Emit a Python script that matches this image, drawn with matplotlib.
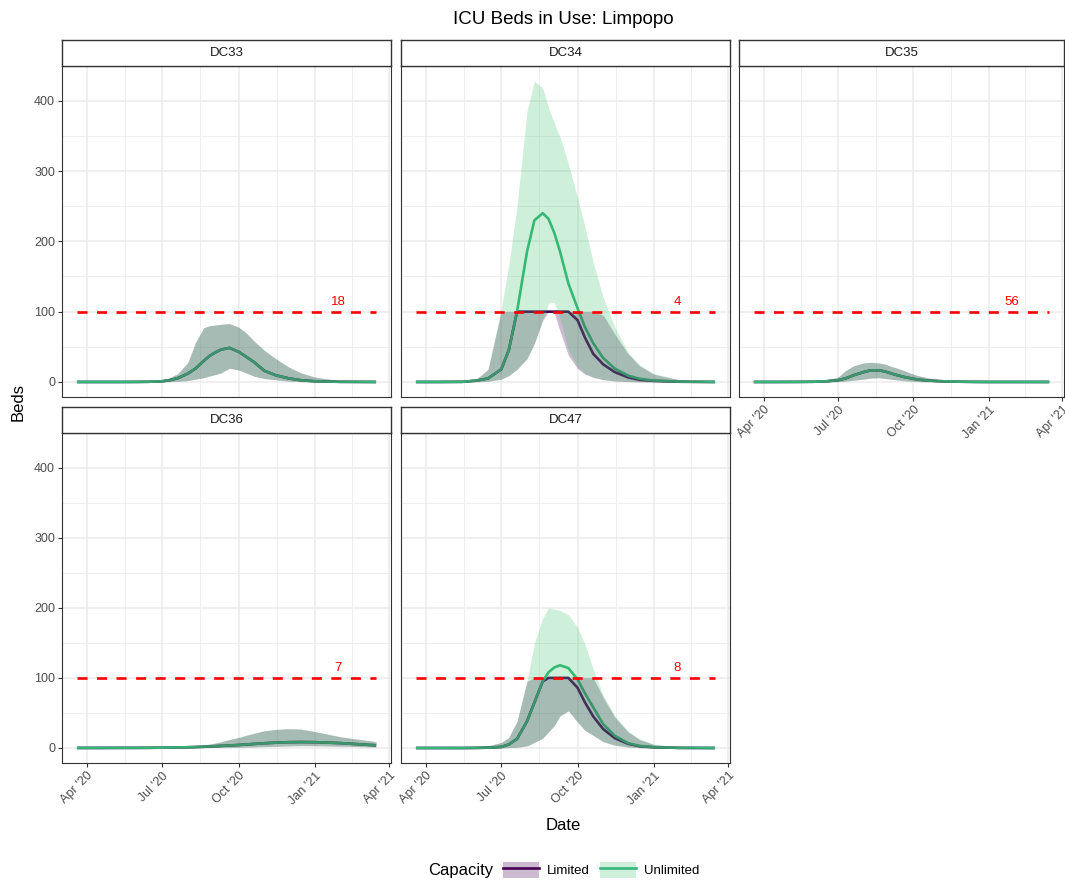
import numpy as np
import pandas as pd
import matplotlib
matplotlib.use('Agg')
import matplotlib.pyplot as plt
import matplotlib.dates as mdates
from matplotlib.patches import Patch
from matplotlib.lines import Line2D

plt.rcParams['font.family'] = ['Liberation Sans', 'DejaVu Sans']

# dates (shared by every panel)
dates = pd.to_datetime(['2020-03-20', '2020-04-15', '2020-05-15', '2020-06-01', '2020-06-15',
                        '2020-07-01', '2020-07-10', '2020-07-20', '2020-08-01', '2020-08-10',
                        '2020-08-20', '2020-08-27', '2020-09-03', '2020-09-10', '2020-09-20',
                        '2020-10-01', '2020-10-10', '2020-10-20', '2020-11-01', '2020-11-15',
                        '2020-12-01', '2020-12-15', '2021-01-01', '2021-02-01', '2021-03-16'])

# DC33 (limited == unlimited)
dc33_mid = [0, 0, 0, 0.1, 0.3, 1, 2.5, 5.5, 12, 19, 30, 37, 42, 46, 48.5, 43, 36, 28, 16, 9.5, 5, 2.5, 1, 0.2, 0]
dc33_hi = [0, 0, 0, 0.5, 1, 3, 6, 12, 28, 56, 77, 80, 81, 82, 83, 78, 70, 58, 45, 33, 21, 13, 7, 1.5, 0]
dc33_lo = [0, 0, 0, 0, 0.1, 0.3, 0.6, 1, 2, 4, 6, 8.5, 10.5, 13, 19.5, 17, 13, 8, 5, 3, 1.2, 0.5, 0.2, 0, 0]

# DC34
dc34_unl_mid = [0, 0, 0.2, 2, 5, 18, 45, 100, 185, 230, 240, 232, 212, 185, 140, 105, 78, 55, 34, 19, 9, 4.5, 2, 0.5, 0]
dc34_unl_hi = [0, 0, 0.3, 4, 18, 105, 165, 250, 385, 428, 418, 390, 368, 348, 310, 262, 220, 170, 120, 78, 42, 24, 12, 3, 0]
dc34_unl_lo = [0, 0, 0, 0.3, 1, 4, 9, 18, 33, 55, 88, 112, 113, 90, 45, 22, 12, 7, 3.5, 1.5, 0.5, 0.2, 0, 0, 0]
dc34_lim_mid = [0, 0, 0.2, 2, 5, 18, 45, 100, 100, 100, 100, 100, 100, 100, 100, 88, 63, 40, 25, 14, 6.5, 3, 1.5, 0.3, 0]
dc34_lim_hi = [0, 0, 0.3, 4, 18, 100, 100, 100, 100, 100, 100, 100, 100, 100, 100, 100, 100, 100, 95, 68, 40, 23, 11, 3, 0]
dc34_lim_lo = [0, 0, 0, 0.3, 1, 4, 9, 18, 33, 55, 88, 100, 98, 72, 38, 19, 11, 6.5, 3.2, 1.4, 0.5, 0.1, 0, 0, 0]

# DC35 (limited == unlimited)
dc35_mid = [0, 0, 0.1, 0.3, 0.8, 2.5, 5, 9.5, 14, 16.5, 16.5, 15, 12.5, 10, 7, 4.5, 3, 2, 1.2, 0.6, 0.3, 0.1, 0, 0, 0]
dc35_hi = [0, 0, 0.2, 0.5, 1.5, 7, 16, 23, 27, 28, 27, 25.5, 22.5, 20, 16, 11, 8, 5.5, 3, 1.5, 0.7, 0.3, 0.1, 0, 0]
dc35_lo = [0, 0, 0, 0, 0.1, 0.5, 1.2, 2.5, 4, 5.5, 6, 5, 4, 3, 1.8, 1, 0.5, 0.3, 0, 0, 0, 0, 0, 0, 0]

# DC36 (limited == unlimited)
dc36_mid = [0.1, 0.1, 0.2, 0.2, 0.3, 0.5, 0.6, 0.8, 1.1, 1.4, 1.8, 2.2, 2.6, 3, 3.6, 4.3, 5, 5.8, 6.8, 7.6, 8.3, 8.5, 8.3, 7, 3.8]
dc36_hi = [0.2, 0.2, 0.3, 0.3, 0.4, 0.6, 0.8, 1, 1.5, 2.5, 4, 5.7, 7, 9, 12, 15, 18, 21, 24.5, 26.5, 27.5, 27, 23.5, 16, 9]
dc36_lo = [0, 0, 0, 0.1, 0.1, 0.2, 0.2, 0.3, 0.4, 0.5, 0.6, 0.7, 0.8, 0.9, 1, 1.1, 1.4, 1.7, 2, 2.4, 2.9, 3.3, 3.2, 2.6, 1.4]

# DC47
dc47_unl_mid = [0, 0, 0, 0.2, 0.5, 1.5, 5, 13, 38, 65, 95, 108, 115, 118, 114, 98, 78, 58, 34, 17.5, 7, 3, 1.2, 0.2, 0]
dc47_unl_hi = [0, 0, 0.2, 1, 3, 8, 15, 38, 95, 150, 185, 200, 198, 196, 190, 172, 148, 112, 75, 46, 24, 13, 5.5, 1.5, 0]
dc47_lim_mid = [0, 0, 0, 0.2, 0.5, 1.5, 5, 13, 38, 65, 95, 100, 100, 100, 100, 86, 65, 45, 27, 14, 6, 2.5, 1, 0.2, 0]
dc47_lim_hi = [0, 0, 0.2, 1, 3, 8, 15, 38, 95, 100, 100, 100, 100, 100, 100, 100, 100, 100, 72, 44, 23, 12, 5, 1.4, 0]
dc47_lo = [0, 0, 0, 0, 0, 0.2, 0.5, 1, 3, 8, 14, 23, 32, 46, 53, 37, 25, 18, 9, 4, 1.5, 0.5, 0, 0, 0]

districts = ['DC33', 'DC34', 'DC35', 'DC36', 'DC47']
capacity_labels = ['18', '4', '56', '7', '8']
capacity_line = 100
label_date = pd.Timestamp('2021-01-29')

# (limited mid, lo, hi, unlimited mid, lo, hi)
series = {
    'DC33': (dc33_mid, dc33_lo, dc33_hi, dc33_mid, dc33_lo, dc33_hi),
    'DC34': (dc34_lim_mid, dc34_lim_lo, dc34_lim_hi, dc34_unl_mid, dc34_unl_lo, dc34_unl_hi),
    'DC35': (dc35_mid, dc35_lo, dc35_hi, dc35_mid, dc35_lo, dc35_hi),
    'DC36': (dc36_mid, dc36_lo, dc36_hi, dc36_mid, dc36_lo, dc36_hi),
    'DC47': (dc47_lim_mid, dc47_lo, dc47_lim_hi, dc47_unl_mid, dc47_lo, dc47_unl_hi),
}

tick_dates = pd.to_datetime(['2020-04-01', '2020-07-01', '2020-10-01', '2021-01-01', '2021-04-01'])
tick_labels = ["Apr '20", "Jul '20", "Oct '20", "Jan '21", "Apr '21"]

col_lim = '#440154'
col_unl = '#35b779'
fill_lim = '#4a0a55'
fill_unl = '#3cc068'

W, H = 1065, 884
fig = plt.figure(figsize=(W / 100, H / 100), dpi=100)

def rect(x0, x1, y0, y1):
    return [x0 / W, 1 - y1 / H, (x1 - x0) / W, (y1 - y0) / H]

cols_x = [(62, 391), (401, 730), (739, 1064)]
rows_y = [(40, 66, 397), (407, 433, 763)]

# shared scales, ggplot style 5% expansion
xnum = mdates.date2num(dates)
xpad = (xnum[-1] - xnum[0]) * 0.05
ymax = max(max(v) for s in series.values() for v in s)
ypad = ymax * 0.05
tnum = mdates.date2num(tick_dates)
minor_x = (tnum[:-1] + tnum[1:]) / 2

for i, name in enumerate(districts):
    r, c = divmod(i, 3)
    x0, x1 = cols_x[c]
    ys, y_top, y_bot = rows_y[r]
    ax = fig.add_axes(rect(x0, x1, y_top, y_bot))
    sax = fig.add_axes(rect(x0, x1, ys, y_top))
    sax.set_xticks([]); sax.set_yticks([])
    for sp in sax.spines.values():
        sp.set_color('#333333'); sp.set_linewidth(1.0)
    sax.text(0.5, 0.5, name, ha='center', va='center', fontsize=9.5, color='#1a1a1a', transform=sax.transAxes)

    lm, ll, lh, um, ul, uh = series[name]
    ax.plot(dates, lm, color=col_lim, lw=1.9, zorder=2, solid_capstyle='butt')
    ax.plot(dates, um, color=col_unl, lw=1.9, zorder=2.1, solid_capstyle='butt')
    ax.fill_between(dates, ll, lh, color=fill_lim, alpha=0.28, lw=0, zorder=3)
    ax.fill_between(dates, ul, uh, color=fill_unl, alpha=0.25, lw=0, zorder=3.1)
    ax.plot([dates[0], dates[-1]], [capacity_line, capacity_line], color='red', lw=1.9,
            linestyle=(0, (3.8, 3.6)), zorder=4)
    ax.annotate(capacity_labels[i], xy=(label_date, capacity_line), xytext=(0, 2.5),
                textcoords='offset points', ha='center', va='bottom', color='red', fontsize=9.5, zorder=5)

    ax.set_xlim(xnum[0] - xpad, xnum[-1] + xpad)
    ax.set_ylim(-ypad, ymax + ypad)
    ax.set_xticks(tnum)
    ax.set_xticks(minor_x, minor=True)
    ax.set_yticks([0, 100, 200, 300, 400])
    ax.set_yticks([50, 150, 250, 350], minor=True)
    ax.set_axisbelow(True)
    ax.grid(which='major', color='#ebebeb', lw=1.1)
    ax.grid(which='minor', color='#ebebeb', lw=0.55)
    for sp in ax.spines.values():
        sp.set_color('#333333'); sp.set_linewidth(0.8)
    ax.tick_params(which='minor', length=0)
    ax.tick_params(which='major', length=3, width=0.8, color='#333333', labelsize=9,
                   labelcolor='#4d4d4d', pad=2)

    show_x = (r == 1) or (c == 2)
    if show_x:
        ax.set_xticklabels(tick_labels, rotation=45, ha='right', va='top', rotation_mode='anchor')
    else:
        ax.tick_params(axis='x', length=0, labelbottom=False)
    if c == 0:
        ax.set_yticklabels(['0', '100', '200', '300', '400'])
    else:
        ax.tick_params(axis='y', length=0, labelleft=False)

fig.text(563 / W, 1 - 20 / H, 'ICU Beds in Use: Limpopo', ha='center', va='center', fontsize=13.5)
fig.text(563 / W, 1 - 825 / H, 'Date', ha='center', va='center', fontsize=12)
fig.text(18 / W, 1 - 402 / H, 'Beds', ha='center', va='center', rotation=90, fontsize=12)

fig.text(461 / W, 1 - 870 / H, 'Capacity', ha='center', va='center', fontsize=12)
h_lim = (Patch(facecolor=fill_lim, alpha=0.28, lw=0), Line2D([], [], color=col_lim, lw=1.9))
h_unl = (Patch(facecolor=fill_unl, alpha=0.25, lw=0), Line2D([], [], color=col_unl, lw=1.9))
fig.legend([h_lim, h_unl], ['Limited', 'Unlimited'], loc='center left',
           bbox_to_anchor=(503 / W, 1 - 870 / H), ncol=2, frameon=False, fontsize=9.5,
           handlelength=2.7, handleheight=1.5, handletextpad=0.6, columnspacing=0.8,
           borderpad=0, borderaxespad=0)

fig.savefig('out.png', dpi=100)
